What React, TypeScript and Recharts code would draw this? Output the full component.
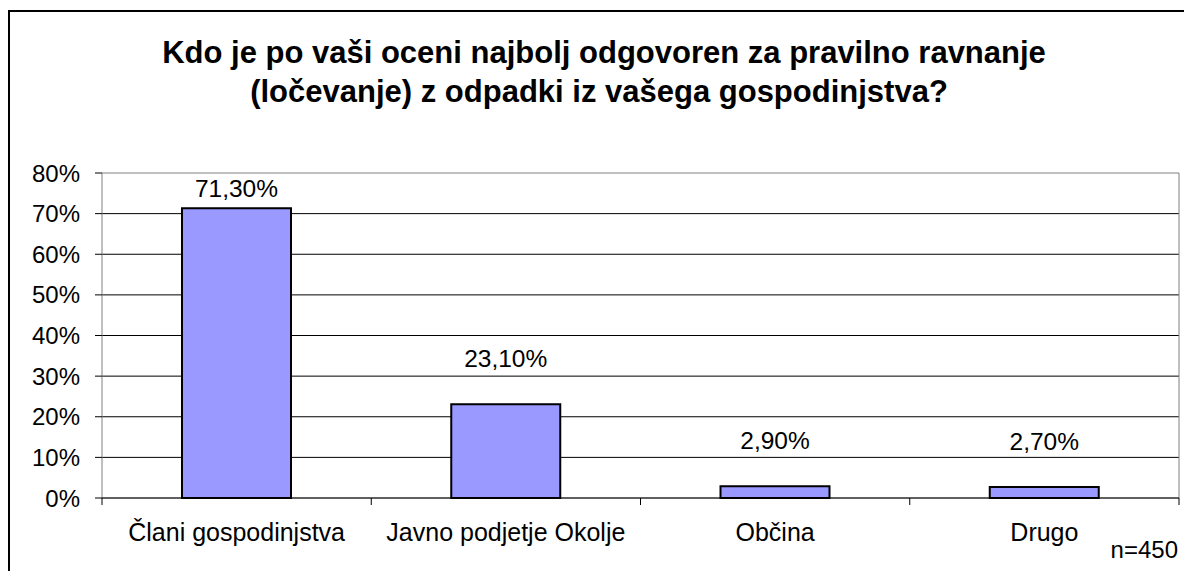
import React from "react";
import { BarChart, Bar, XAxis, YAxis, CartesianGrid, ReferenceArea, LabelList } from "recharts";

const categories = ["Člani gospodinjstva", "Javno podjetje Okolje", "Občina", "Drugo"];
const shares = [71.3, 23.1, 2.9, 2.7];
const yTicks = [0, 10, 20, 30, 40, 50, 60, 70, 80];
const gridValues = [10, 20, 30, 40, 50, 60, 70];
const titleLines = [
  "Kdo je po vaši oceni najbolj odgovoren za pravilno ravnanje",
  "(ločevanje) z odpadki iz vašega gospodinjstva?",
];
const sampleNote = "n=450";

const data = categories.map((name, i) => ({ name, value: shares[i] }));

const W = 1168;
const H = 555;
const M = { top: 165, right: 5, bottom: 0, left: 0 };
const Y_W = 94;
const PLOT_BOTTOM = 490;
const X_H = H - PLOT_BOTTOM;
const PLOT_TOP = M.top;
const PLOT_W = 1176 - M.right - M.left - Y_W;
const HALF_BAND = PLOT_W / categories.length / 2;
const FONT = "'Liberation Sans', Arial, sans-serif";
const FS = 24;

const fmt = (v: number) => v.toFixed(2).replace(".", ",") + "%";

const XTick = (props: any) => {
  const { x, payload, index } = props;
  return (
    <g>
      <line x1={x - HALF_BAND} x2={x - HALF_BAND} y1={PLOT_BOTTOM} y2={PLOT_BOTTOM + 7} stroke="#000" />
      {index === categories.length - 1 && (
        <line x1={x + HALF_BAND} x2={x + HALF_BAND} y1={PLOT_BOTTOM} y2={PLOT_BOTTOM + 7} stroke="#000" />
      )}
      <text x={x} y={PLOT_BOTTOM + 43} textAnchor="middle" fontSize={25} fill="#000" fontFamily={FONT}>
        {payload.value}
      </text>
    </g>
  );
};

const ValueLabel = (props: any) => {
  const { x, y, width, value } = props;
  const ty = Math.max(y - 37.5, PLOT_TOP + 24);
  return (
    <text x={x + width / 2} y={ty} textAnchor="middle" fontSize={24.5} fill="#000" fontFamily={FONT}>
      {fmt(value)}
    </text>
  );
};

export default function App() {
  return (
    <div style={{ position: "relative", width: W, height: H, fontFamily: FONT, background: "#fff" }}>
      <style>{"html{overflow:hidden !important;scrollbar-width:none !important;} body{overflow:visible !important;} ::-webkit-scrollbar{display:none !important;width:0 !important;}"}</style>
      <BarChart width={1176} height={H} data={data} margin={M} style={{ overflow: "visible" }}>
        <CartesianGrid vertical={false} horizontalValues={gridValues} stroke="#000" strokeWidth={1} />
        <ReferenceArea y1={0} y2={80} fill="none" stroke="#808080" strokeWidth={1} />
        <XAxis
          dataKey="name"
          height={X_H}
          interval={0}
          tickLine={false}
          tickSize={0}
          tick={<XTick />}
          axisLine={{ stroke: "#000", strokeWidth: 1 }}
        />
        <YAxis
          width={Y_W}
          domain={[0, 80]}
          ticks={yTicks}
          tickFormatter={(v: number) => v + "%"}
          axisLine={false}
          tickLine={{ stroke: "#000" }}
          tickSize={7}
          tickMargin={15}
          tick={{ fontSize: FS, fill: "#000", fontFamily: FONT }}
          interval={0}
        />
        <Bar dataKey="value" fill="#9999FF" stroke="#000" strokeWidth={2} barSize={109} isAnimationActive={false}>
          <LabelList dataKey="value" content={<ValueLabel />} />
        </Bar>
      </BarChart>
      <svg width={1176} height={H} style={{ position: "absolute", left: 0, top: 0, pointerEvents: "none", overflow: "visible" }}>
        <line x1={0} x2={1176} y1={3} y2={3} stroke="#000" strokeWidth={2} />
        <line x1={1} x2={1} y1={2} y2={H + 8} stroke="#000" strokeWidth={2} />
        <text x={596} y={54.7} textAnchor="middle" fontSize={31} fontWeight="bold" fill="#000" fontFamily={FONT}>
          {titleLines[0]}
        </text>
        <text x={591} y={93.7} textAnchor="middle" fontSize={31} fontWeight="bold" fill="#000" fontFamily={FONT}>
          {titleLines[1]}
        </text>
        <text x={1170} y={550} textAnchor="end" fontSize={FS} fill="#000" fontFamily={FONT}>
          {sampleNote}
        </text>
      </svg>
    </div>
  );
}
